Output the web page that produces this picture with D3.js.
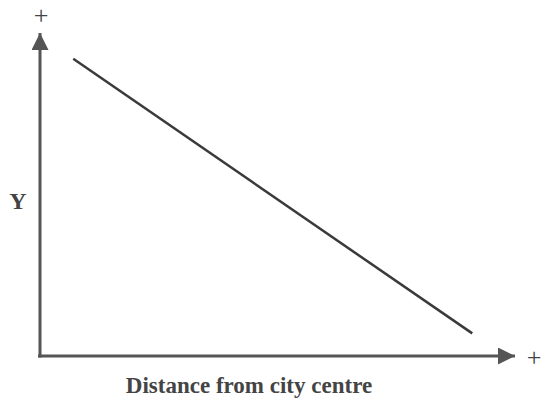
<!DOCTYPE html>
<html>
<head>
<meta charset="utf-8">
<script src="https://cdn.jsdelivr.net/npm/d3@7"></script>
<style>
  body { margin: 0; background: #fff; }
  svg text { font-family: "Liberation Serif", "Times New Roman", serif; fill: #444; }
</style>
</head>
<body>
<div id="chart"></div>
<script>
// Chart data (arbitrary units, 0-100 on both axes).
const distance = [7, 91];
const yValues = [92, 7];
const xLabel = "Distance from city centre";
const yLabel = "Y";
const axisEnd = "+";

const width = 541;
const height = 402;

const svg = d3.select("#chart").append("svg")
  .attr("width", width)
  .attr("height", height);

// Origin sits at (40, 356).
const x = d3.scaleLinear().domain([0, 100]).range([40, 515]);
const y = d3.scaleLinear().domain([0, 100]).range([356, 33]);

// Arrowheads for the axes.
const defs = svg.append("defs");
defs.append("marker")
  .attr("id", "arrow")
  .attr("viewBox", "0 0 10 10")
  .attr("refX", 10)
  .attr("refY", 5)
  .attr("markerUnits", "userSpaceOnUse")
  .attr("markerWidth", 17)
  .attr("markerHeight", 17)
  .attr("orient", "auto")
  .append("path")
  .attr("d", "M0,0 L10,5 L0,10 Z")
  .attr("fill", "#555");

const axisColor = "#555";

// x axis
svg.append("line")
  .attr("x1", x(0) - 2).attr("y1", y(0))
  .attr("x2", x(100)).attr("y2", y(0))
  .attr("stroke", axisColor)
  .attr("stroke-width", 3)
  .attr("marker-end", "url(#arrow)");

// y axis
svg.append("line")
  .attr("x1", x(0)).attr("y1", y(0) + 1.5)
  .attr("x2", x(0)).attr("y2", y(100))
  .attr("stroke", axisColor)
  .attr("stroke-width", 3)
  .attr("marker-end", "url(#arrow)");

// The downward sloping line.
const pts = distance.map((d, i) => [d, yValues[i]]);
svg.append("path")
  .datum(pts)
  .attr("d", d3.line().x(d => x(d[0])).y(d => y(d[1])))
  .attr("fill", "none")
  .attr("stroke", "#3a3a3a")
  .attr("stroke-width", 2.5);

// "+" signs at the axis ends
svg.append("text")
  .attr("x", x(0) + 1)
  .attr("y", y(100) - 9)
  .attr("text-anchor", "middle")
  .style("font-size", "26px")
  .text(axisEnd);

svg.append("text")
  .attr("x", x(100) + 19)
  .attr("y", y(0) + 10)
  .attr("text-anchor", "middle")
  .style("font-size", "26px")
  .text(axisEnd);

// Axis labels
svg.append("text")
  .attr("x", 18)
  .attr("y", 209)
  .attr("text-anchor", "middle")
  .style("font-size", "24px")
  .style("font-weight", "bold")
  .text(yLabel);

svg.append("text")
  .attr("x", 249)
  .attr("y", 393)
  .attr("text-anchor", "middle")
  .style("font-size", "23px")
  .style("font-weight", "bold")
  .text(xLabel);
</script>
</body>
</html>
